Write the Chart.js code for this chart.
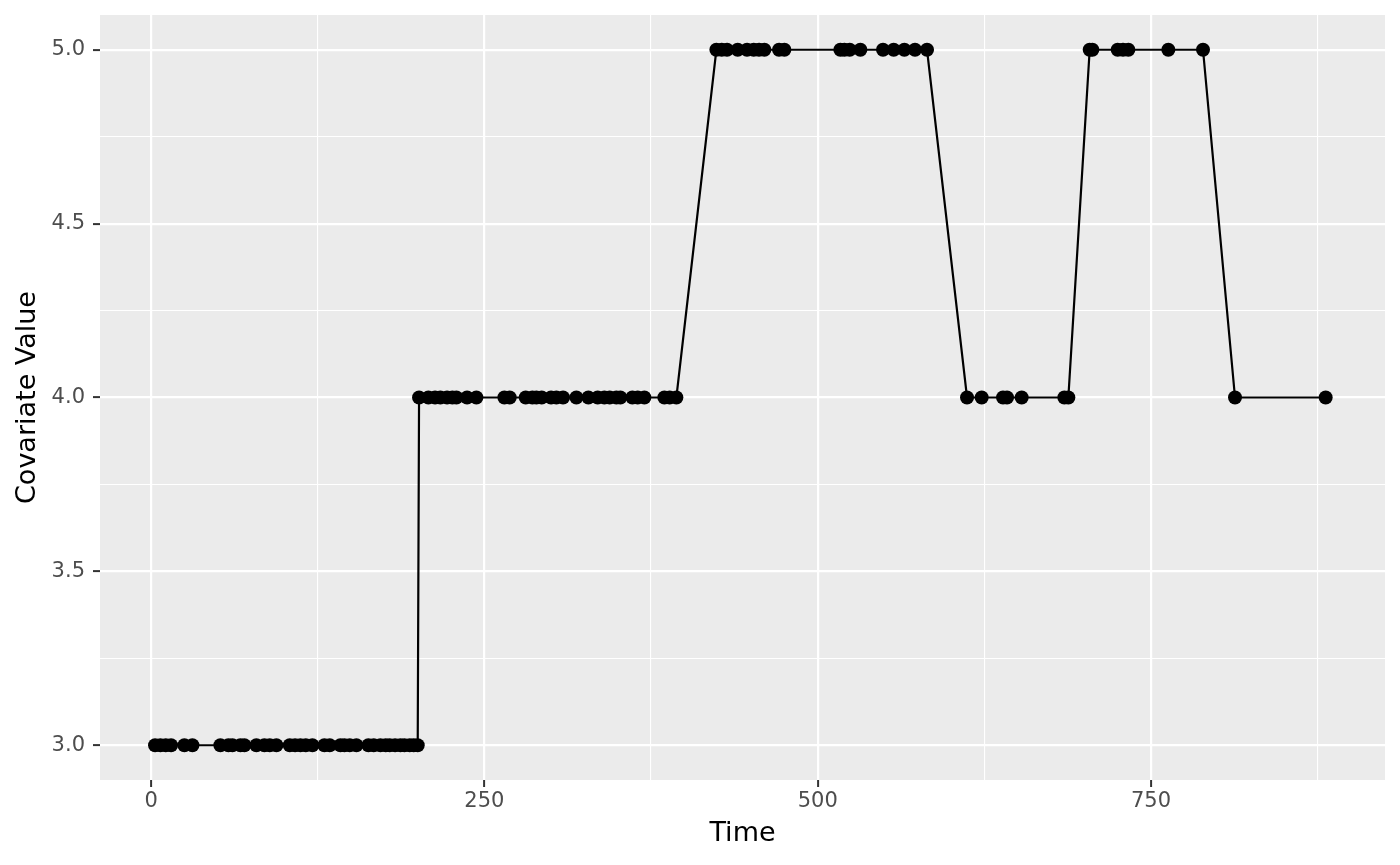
<!DOCTYPE html>
<html>
<head>
<meta charset="utf-8">
<script src="https://cdn.jsdelivr.net/npm/chart.js@4"></script>
<style>
  html, body { margin: 0; padding: 0; background: #fff; }
  #wrap { width: 1400px; height: 865px; }
</style>
</head>
<body>
<div id="wrap"><canvas id="chart"></canvas></div>
<script>
const times = [
    3, 7, 11, 15, 25, 31, 52, 58, 61, 67, 70, 79, 85, 89, 94, 104, 108, 112, 116, 121,
    130, 134, 142, 145, 149, 154, 163, 167, 172, 176, 179, 183, 187, 190, 194, 197, 200,
    201, 208, 213, 217, 222, 226, 229, 237, 244, 265, 269, 281, 286, 289, 293, 300, 304,
    309, 319, 328, 335, 340, 344, 349, 352, 361, 365, 370, 385, 389, 394,
    424, 428, 432, 440, 447, 452, 456, 460, 471, 475, 517, 520, 524, 532, 549, 557, 565, 573, 582,
    612, 623, 639, 642, 653, 685, 688,
    704, 706, 725, 729, 733, 763, 789,
    813, 881
];
const values = [
    3, 3, 3, 3, 3, 3, 3, 3, 3, 3, 3, 3, 3, 3, 3, 3, 3, 3, 3, 3,
    3, 3, 3, 3, 3, 3, 3, 3, 3, 3, 3, 3, 3, 3, 3, 3, 3,
    4, 4, 4, 4, 4, 4, 4, 4, 4, 4, 4, 4, 4, 4, 4, 4, 4,
    4, 4, 4, 4, 4, 4, 4, 4, 4, 4, 4, 4, 4, 4,
    5, 5, 5, 5, 5, 5, 5, 5, 5, 5, 5, 5, 5, 5, 5, 5, 5, 5, 5,
    4, 4, 4, 4, 4, 4, 4,
    5, 5, 5, 5, 5, 5, 5,
    4, 4
];

const xLabels = [0, 250, 500, 750];
const yLabels = [3.0, 3.5, 4.0, 4.5, 5.0];

const points = times.map((t, i) => ({ x: t, y: values[i] }));

const panelBg = {
    id: "panelBg",
    beforeDraw(chart) {
        const a = chart.chartArea;
        const ctx = chart.ctx;
        ctx.save();
        ctx.fillStyle = "#EBEBEB";
        ctx.fillRect(a.left, a.top, a.right - a.left, a.bottom - a.top);
        ctx.restore();
    }
};

const font = "'DejaVu Sans', sans-serif";
const isYMajor = (v) => yLabels.some(l => Math.abs(l - v) < 1e-9);

const ctx = document.getElementById("chart").getContext("2d");

new Chart(ctx, {
    type: "scatter",
    data: {
        datasets: [{
            data: points,
            showLine: true,
            borderColor: "#000",
            borderWidth: 2.2,
            backgroundColor: "#000",
            pointRadius: 7,
            pointBorderWidth: 0,
            tension: 0
        }]
    },
    options: {
        responsive: true,
        maintainAspectRatio: false,
        animation: false,
        layout: { padding: { top: 15, right: 15, left: 0, bottom: 0 } },
        plugins: { legend: { display: false }, tooltip: { enabled: false } },
        scales: {
            x: {
                type: "linear",
                min: -38.3,
                max: 925.5,
                afterFit: (scale) => {
                    scale.height = 85;
                    scale.paddingLeft = 0;
                    scale.paddingRight = 0;
                },
                afterBuildTicks: (scale) => {
                    scale.ticks = [0, 125, 250, 375, 500, 625, 750, 875].map(v => ({ value: v }));
                },
                ticks: {
                    color: "#4D4D4D",
                    font: { family: font, size: 21 },
                    padding: 2,
                    maxRotation: 0,
                    autoSkip: false,
                    callback: (v) => xLabels.includes(v) ? String(v) : ""
                },
                grid: {
                    color: "#FFFFFF",
                    lineWidth: (c) => xLabels.includes(c.tick.value) ? 2.2 : 1.1,
                    tickColor: (c) => xLabels.includes(c.tick.value) ? "#333333" : "rgba(0,0,0,0)",
                    tickLength: 7,
                    tickWidth: 2,
                    drawTicks: true
                },
                border: { display: false },
                title: {
                    display: true,
                    text: "Time",
                    color: "#000",
                    font: { family: font, size: 27 },
                    padding: { top: 4, bottom: 15 }
                }
            },
            y: {
                min: 2.9,
                max: 5.1,
                afterFit: (scale) => {
                    scale.width = 100;
                    scale.paddingTop = 0;
                    scale.paddingBottom = 0;
                },
                afterBuildTicks: (scale) => {
                    scale.ticks = [3.0, 3.25, 3.5, 3.75, 4.0, 4.25, 4.5, 4.75, 5.0].map(v => ({ value: v }));
                },
                ticks: {
                    color: "#4D4D4D",
                    font: { family: font, size: 21 },
                    padding: 8,
                    autoSkip: false,
                    callback: (v) => isYMajor(v) ? v.toFixed(1) : ""
                },
                grid: {
                    color: "#FFFFFF",
                    lineWidth: (c) => isYMajor(c.tick.value) ? 2.2 : 1.1,
                    tickColor: (c) => isYMajor(c.tick.value) ? "#333333" : "rgba(0,0,0,0)",
                    tickLength: 7,
                    tickWidth: 2,
                    drawTicks: true
                },
                border: { display: false },
                title: {
                    display: true,
                    text: "Covariate Value",
                    color: "#000",
                    font: { family: font, size: 27 },
                    padding: { top: 12, bottom: 4 }
                }
            }
        }
    },
    plugins: [panelBg]
});
</script>
</body>
</html>
